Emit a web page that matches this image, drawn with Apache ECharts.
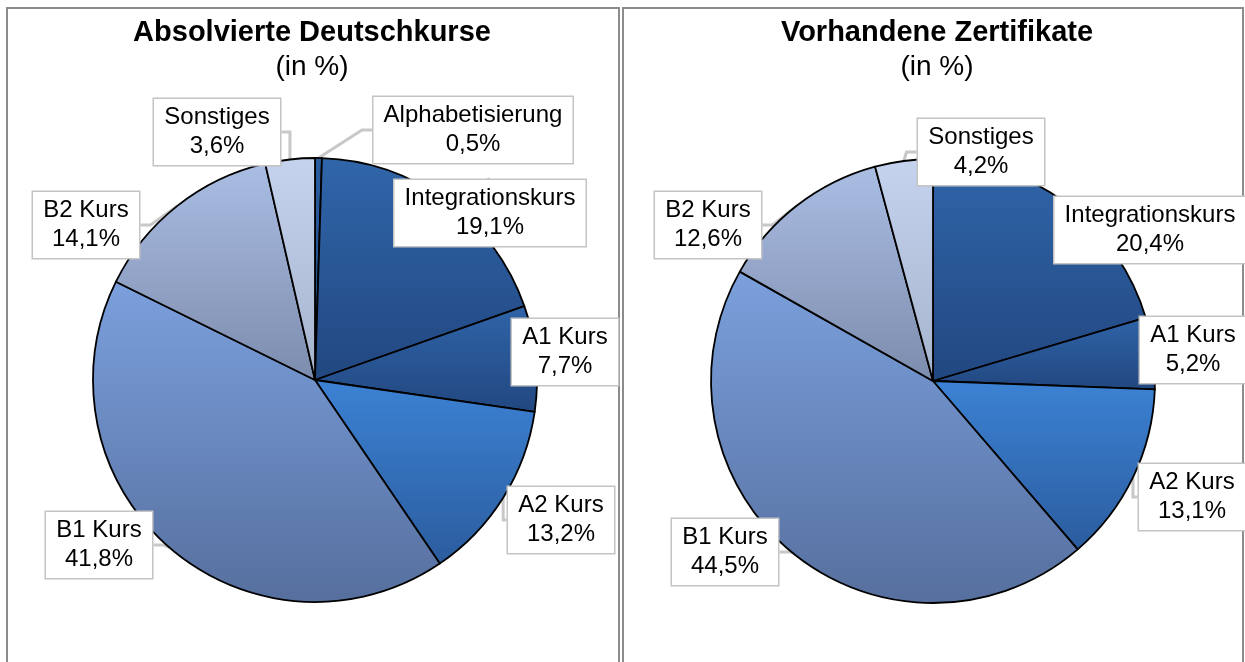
<!DOCTYPE html>
<html>
<head>
<meta charset="utf-8">
<script src="https://cdn.jsdelivr.net/npm/echarts@6/dist/echarts.min.js"></script>
<style>
html, body { margin: 0; padding: 0; background: #fff; }
#main { width: 1245px; height: 662px; }
</style>
</head>
<body>
<div id="main"></div>
<script type="text/javascript">
// Daten: Absolvierte Deutschkurse
var kursNamen = ['Alphabetisierung', 'Integrationskurs', 'A1 Kurs', 'A2 Kurs', 'B1 Kurs', 'B2 Kurs', 'Sonstiges'];
var kursWerte = [0.5, 19.1, 7.7, 13.2, 41.8, 14.1, 3.6];
// Daten: Vorhandene Zertifikate
var zertNamen = ['Integrationskurs', 'A1 Kurs', 'A2 Kurs', 'B1 Kurs', 'B2 Kurs', 'Sonstiges'];
var zertWerte = [20.4, 5.2, 13.1, 44.5, 12.6, 4.2];

// Farbverlauf je Kategorie (oben, unten)
var farben = {
	'Alphabetisierung': ['#2a5da0', '#1e4a85'],
	'Integrationskurs': ['#3066aa', '#224780'],
	'A1 Kurs': ['#2f64a8', '#224780'],
	'A2 Kurs': ['#3c82d4', '#2b5c9e'],
	'B1 Kurs': ['#7ba0dd', '#566f9e'],
	'B2 Kurs': ['#aabde3', '#7c8cad'],
	'Sonstiges': ['#c5d3ee', '#a6b3cd']
};

// Position der Beschriftungen (Mittelpunkt der Box)
var labelPos = [
	[[473, 130], [490, 213], [565, 352], [561, 520], [99, 545], [86, 225], [217, 132]],
	[[1150, 230], [1193, 350], [1192, 497], [725, 552], [708, 225], [981, 152]]
];

var FONT = 'Liberation Sans, Arial';
var LABEL_SIZE = 24;

// Textbreite messen, damit die Boxen nicht abgeschnitten werden
var ctx = document.createElement('canvas').getContext('2d');
ctx.font = LABEL_SIZE + 'px "Liberation Sans", Arial';
function textBreite(s) {
	return Math.ceil(ctx.measureText(s).width) + 2;
}

function wertText(v) {
	return String(v).replace('.', ',') + '%';
}

function baueDaten(namen, werte) {
	return namen.map(function (n, i) {
		return {
			name: n,
			value: werte[i],
			label: { width: Math.max(textBreite(n), textBreite(wertText(werte[i]))) },
			itemStyle: {
				color: new echarts.graphic.LinearGradient(0, 0, 0, 1, [
					{ offset: 0, color: farben[n][0] },
					{ offset: 1, color: farben[n][1] }
				])
			}
		};
	});
}

function pieSerie(center, daten) {
	return {
		type: 'pie',
		center: center,
		radius: 222,
		startAngle: 90,
		clockwise: true,
		animation: false,
		silent: true,
		data: daten,
		itemStyle: { borderColor: '#000', borderWidth: 1.8 },
		label: {
			show: true,
			position: 'outside',
			overflow: 'none',
			edgeDistance: 0,
			formatter: function (p) {
				return p.name + '\n' + wertText(p.value);
			},
			fontFamily: FONT,
			fontSize: LABEL_SIZE,
			lineHeight: 29,
			color: '#000',
			align: 'center',
			backgroundColor: '#fff',
			borderColor: '#c4c4c4',
			borderWidth: 1.5,
			padding: [4, 9]
		},
		labelLine: {
			show: true,
			length: 10,
			length2: 10,
			lineStyle: { color: '#c8c8c8', width: 3 }
		},
		labelLayout: function (params) {
			var pos = labelPos[params.seriesIndex][params.dataIndex];
			return { x: pos[0], y: pos[1], align: 'center', verticalAlign: 'middle' };
		}
	};
}

var myChart = echarts.init(document.getElementById('main'));

var titelStil = { fontFamily: FONT, fontSize: 29, fontWeight: 'bold', color: '#000' };
var unterStil = { fontFamily: FONT, fontSize: 28, color: '#000' };

var option = {
	backgroundColor: '#fff',
	title: [
		{
			text: 'Absolvierte Deutschkurse',
			subtext: '(in %)',
			left: 307, top: 13, textAlign: 'center',
			itemGap: 6,
			textStyle: titelStil,
			subtextStyle: unterStil
		},
		{
			text: 'Vorhandene Zertifikate',
			subtext: '(in %)',
			left: 932, top: 13, textAlign: 'center',
			itemGap: 6,
			textStyle: titelStil,
			subtextStyle: unterStil
		}
	],
	graphic: [
		{ type: 'rect', shape: { x: 7, y: 8, width: 612, height: 670 }, style: { fill: 'none', stroke: '#8c8c8c', lineWidth: 2 }, z: -1 },
		{ type: 'rect', shape: { x: 623, y: 8, width: 620, height: 670 }, style: { fill: 'none', stroke: '#8c8c8c', lineWidth: 2 }, z: -1 }
	],
	series: [
		pieSerie([315, 380], baueDaten(kursNamen, kursWerte)),
		pieSerie([933, 381], baueDaten(zertNamen, zertWerte))
	]
};

myChart.setOption(option);
</script>
</body>
</html>
